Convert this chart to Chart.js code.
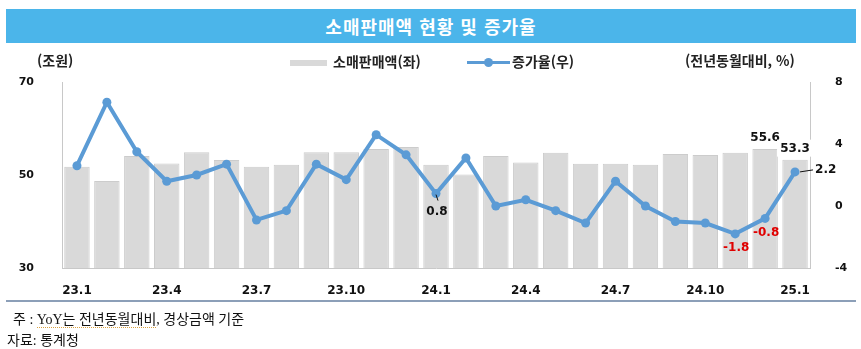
<!DOCTYPE html>
<html lang="ko">
<head>
<meta charset="utf-8">
<script src="https://cdn.jsdelivr.net/npm/chart.js@4/dist/chart.umd.min.js"></script>
<style>
  body { margin: 0; background: #fff; }
  #wrap { position: relative; width: 861px; height: 349px; overflow: hidden; font-family: 'Noto Sans CJK KR', sans-serif; }
  #chart { position: absolute; left: 0; top: 0; }
  .banner { position: absolute; left: 6px; top: 9px; width: 850px; height: 34px; background: #4bb5ea;
    color: #fff; font-weight: bold; font-size: 18px; line-height: 34px; text-align: center; letter-spacing: 1px; }
  .unit { position: absolute; top: 50px; font-weight: bold; font-size: 14px; color: #222; }
  .legend { position: absolute; top: 51px; font-weight: bold; font-size: 14px; color: #222; line-height: 20px; }
  .sw-bar { position: absolute; left: 290px; top: 60px; width: 37px; height: 6px; background: #d9d9d9; }
  .sw-line { position: absolute; left: 467px; top: 61px; width: 43px; height: 3px; background: #5b9bd5; }
  .sw-dot { position: absolute; left: 484px; top: 58px; width: 9px; height: 9px; border-radius: 50%; background: #5b9bd5; }
  .rule { position: absolute; left: 6px; top: 300px; width: 850px; height: 2px; background: #8c9fb8; }
  .note { position: absolute; font-family: 'Liberation Serif', 'Noto Sans CJK KR', serif; font-size: 14px; color: #111; }
  .squig { border-bottom: 1px dotted #d9a040; }
</style>
</head>
<body>
<div id="wrap">
  <canvas id="chart" width="861" height="349"></canvas>
  <div class="banner">소매판매액 현황 및 증가율</div>
  <div class="unit" style="left:37px">(조원)</div>
  <div class="unit" style="left:685px">(전년동월대비, %)</div>
  <div class="sw-bar"></div>
  <div class="legend" style="left:333px">소매판매액(좌)</div>
  <div class="sw-line"></div><div class="sw-dot"></div>
  <div class="legend" style="left:512px">증가율(우)</div>
  <div class="rule"></div>
  <div class="note" style="left:13px; top:308px">주 : <span class="squig">YoY는 전년동월대비</span>, 경상금액 기준</div>
  <div class="note" style="left:7px; top:329px">자료: 통계청</div>
</div>
<script>
// months 23.1 ~ 25.1
const months = ['23.1','23.2','23.3','23.4','23.5','23.6','23.7','23.8','23.9','23.10','23.11','23.12',
  '24.1','24.2','24.3','24.4','24.5','24.6','24.7','24.8','24.9','24.10','24.11','24.12','25.1'];

// 소매판매액 (조원)
const sales = [51.8, 48.7, 54.1, 52.5, 54.9, 53.2, 51.8, 52.2, 54.9, 54.9, 55.6, 56.0,
  52.2, 50.1, 54.1, 52.7, 54.8, 52.4, 52.4, 52.2, 54.5, 54.3, 54.8, 55.6, 53.3];

// 증가율 (전년동월대비, %)
const growth = [2.6, 6.7, 3.5, 1.6, 2.0, 2.7, -0.9, -0.3, 2.7, 1.7, 4.6, 3.3,
  0.8, 3.1, 0.0, 0.4, -0.3, -1.1, 1.6, 0.0, -1.0, -1.1, -1.8, -0.8, 2.2];

const leftTicks = [30, 50, 70];
const rightTicks = [-4, 0, 4, 8];

// value labels: [series, index, text, color, dx, dy]
const salesLabels = [[23, '55.6'], [24, '53.3']];
const growthLabels = [[12, '0.8', '#111'], [22, '-1.8', '#e00000'], [23, '-0.8', '#e00000'], [24, '2.2', '#111']];

const labelPlugin = {
  id: 'valueLabels',
  afterDatasetsDraw(chart) {
    const ctx = chart.ctx;
    const x = chart.scales.x, yL = chart.scales.y, yR = chart.scales.y1;
    ctx.save();
    ctx.font = 'bold 12px "DejaVu Sans"';
    ctx.textAlign = 'center';
    ctx.textBaseline = 'middle';
    salesLabels.forEach(([i, t]) => {
      const px = x.getPixelForValue(i), py = yL.getPixelForValue(sales[i]) - 11;
      if (i === 24) {
        ctx.fillStyle = '#fff';
        ctx.fillRect(px - 18, py - 9, 36, 17);
      }
      ctx.fillStyle = '#111';
      ctx.fillText(t, px, py);
    });
    growthLabels.forEach(([i, t, c]) => {
      const px = x.getPixelForValue(i), py = yR.getPixelForValue(growth[i]);
      ctx.fillStyle = c;
      ctx.strokeStyle = '#111';
      ctx.lineWidth = 1;
      if (i === 24) {
        ctx.beginPath(); ctx.moveTo(px + 5, py); ctx.lineTo(px + 18, py - 2); ctx.stroke();
        ctx.textAlign = 'left';
        ctx.fillText(t, px + 20, py - 2);
        ctx.textAlign = 'center';
      } else if (i === 12) {
        ctx.beginPath(); ctx.moveTo(px, py + 1); ctx.lineTo(px + 2, py + 7); ctx.stroke();
        ctx.fillText(t, px + 1, py + 18);
      } else {
        ctx.fillText(t, px + 1, py + 14);
      }
    });
    ctx.restore();
  }
};

const fixSize = (w, h) => (scale) => { if (w) scale.width = w; if (h) scale.height = h; };

new Chart(document.getElementById('chart'), {
  data: {
    labels: months,
    datasets: [
      {
        type: 'line',
        label: '증가율(우)',
        data: growth,
        yAxisID: 'y1',
        borderColor: '#5b9bd5',
        backgroundColor: '#5b9bd5',
        borderWidth: 4,
        pointRadius: 4.5,
        pointBorderWidth: 0,
        tension: 0,
        order: 0
      },
      {
        type: 'bar',
        label: '소매판매액(좌)',
        data: sales,
        yAxisID: 'y',
        backgroundColor: '#d9d9d9',
        borderColor: '#cccccc',
        borderWidth: 1,
        barPercentage: 0.85,
        categoryPercentage: 1,
        order: 1
      }
    ]
  },
  options: {
    responsive: false,
    animation: false,
    layout: { padding: { top: 82, left: 0, right: 0, bottom: 0 } },
    plugins: { legend: { display: false }, tooltip: { enabled: false } },
    scales: {
      x: {
        offset: true,
        afterFit: fixSize(null, 81),
        grid: { display: false },
        border: { display: true, color: '#c8c8c8', width: 1 },
        ticks: {
          autoSkip: false, maxRotation: 0, padding: 8, color: '#111',
          font: { family: 'DejaVu Sans', weight: 'bold', size: 12 },
          callback: (v, i) => (i % 3 === 0 ? months[i] : '')
        }
      },
      y: {
        position: 'left',
        min: 30, max: 70,
        afterFit: fixSize(62, null),
        afterBuildTicks: (s) => { s.ticks = leftTicks.map(v => ({ value: v })); },
        grid: { display: false },
        border: { display: true, color: '#c8c8c8', width: 1 },
        ticks: { padding: 20, color: '#111', font: { family: 'DejaVu Sans', weight: 'bold', size: 11 } }
      },
      y1: {
        position: 'right',
        min: -4, max: 8,
        afterFit: fixSize(51, null),
        afterBuildTicks: (s) => { s.ticks = rightTicks.map(v => ({ value: v })); },
        grid: { display: false },
        border: { display: true, color: '#c8c8c8', width: 1 },
        ticks: { padding: 17, color: '#111', font: { family: 'DejaVu Sans', weight: 'bold', size: 11 } }
      }
    }
  },
  plugins: [labelPlugin]
});
</script>
</body>
</html>
